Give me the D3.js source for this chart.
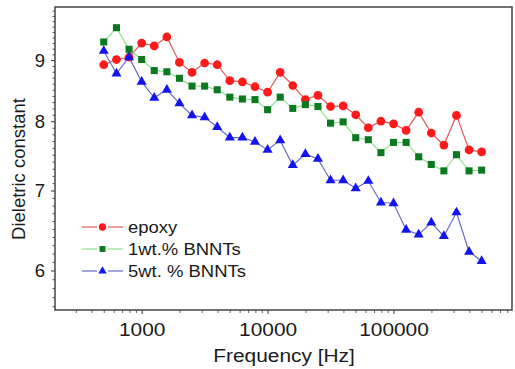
<!DOCTYPE html>
<html>
<head>
<meta charset="utf-8">
<script src="https://cdn.jsdelivr.net/npm/d3@7"></script>
<style>
    body { margin: 0; background: #fff; }
    svg { display: block; }
    text { font-family: "Liberation Sans", Arial, Helvetica, sans-serif; fill: #1a1a1a; }
</style>
</head>
<body>
<svg width="515" height="369"></svg>
<script>
// frequencies [Hz]
var freq = [500, 631, 794, 1000, 1259, 1585, 1995, 2512, 3162, 3981, 5012, 6310, 7943,
    10000, 12589, 15849, 19953, 25119, 31623, 39811, 50119, 63096, 79433,
    100000, 125893, 158489, 199526, 251189, 316228, 398107, 501187];

// dielectric constant per series
var epoxy = [8.92, 9.01, 9.05, 9.30, 9.25, 9.41, 8.96, 8.79, 8.95, 8.92, 8.65, 8.63, 8.55,
    8.46, 8.79, 8.57, 8.34, 8.41, 8.23, 8.24, 8.10, 7.90, 8.00, 7.96, 7.86, 8.14,
    7.82, 7.64, 8.09, 7.57, 7.54];
var bnnt1 = [9.32, 9.58, 9.19, 9.01, 8.82, 8.80, 8.69, 8.56, 8.56, 8.50, 8.38, 8.35, 8.34,
    8.18, 8.38, 8.20, 8.26, 8.23, 7.97, 7.99, 7.75, 7.72, 7.53, 7.68, 7.68, 7.47,
    7.36, 7.27, 7.50, 7.27, 7.28];
var bnnt5 = [9.16, 8.77, 9.05, 8.63, 8.37, 8.50, 8.28, 8.09, 8.06, 7.91, 7.75, 7.75, 7.69,
    7.57, 7.71, 7.35, 7.51, 7.44, 7.14, 7.14, 7.03, 7.13, 6.84, 6.83, 6.49, 6.43,
    6.58, 6.41, 6.71, 6.22, 6.11];

var seriesNames = ["epoxy", "1wt.% BNNTs", "5wt. % BNNTs"];
var xTicks = [1000, 10000, 100000];
var yTicks = [6, 7, 8, 9];

window.onload = main;

function main() {
    var svg = d3.select("svg");
    var left = 55, right = 512, top = 7, bottom = 310;

    var x = d3.scaleLog().domain([205, 873000]).range([left, right]);
    var y = d3.scaleLog().domain([5.56, 9.97]).range([bottom, top]);

    var series = [
        { name: seriesNames[0], values: epoxy, line: "#e05a5a", fill: "#ff1a1a", symbol: d3.symbolCircle, size: 60 },
        { name: seriesNames[1], values: bnnt1, line: "#8de38d", fill: "#0b7a1e", symbol: d3.symbolSquare, size: 50 },
        { name: seriesNames[2], values: bnnt5, line: "#6a6ac8", fill: "#1414ee", symbol: d3.symbolTriangle, size: 44 }
    ];

    // minor ticks
    var xMinor = [];
    [100, 1000, 10000, 100000].forEach(function (d) {
        for (var k = 2; k <= 9; k++) if (d * k >= 205 && d * k <= 873000) xMinor.push(d * k);
    });
    var yMinor = d3.range(56, 100).map(function (d) { return d / 10; })
        .filter(function (d) { return yTicks.indexOf(d) < 0; });

    svg.append("g")
        .attr("transform", "translate(0," + bottom + ")")
        .call(d3.axisBottom(x).tickValues(xMinor).tickSize(3).tickFormat(""))
        .call(function (g) { g.select(".domain").remove(); g.selectAll("line").attr("stroke", "#666"); });
    svg.append("g")
        .attr("transform", "translate(" + left + ",0)")
        .call(d3.axisLeft(y).tickValues(yMinor).tickSize(2.5).tickFormat(""))
        .call(function (g) { g.select(".domain").remove(); g.selectAll("line").attr("stroke", "#555"); });

    // major ticks
    svg.append("g")
        .attr("transform", "translate(0," + bottom + ")")
        .call(d3.axisBottom(x).tickValues(xTicks).tickSize(4).tickPadding(9).tickFormat(d3.format("d")))
        .call(function (g) {
            g.select(".domain").remove();
            g.selectAll("line").attr("stroke", "#333");
            g.selectAll("text").attr("font-size", 18.5).attr("fill", "#1a1a1a")
                .attr("transform", "scale(1.13,1)");
        });
    svg.append("g")
        .attr("transform", "translate(" + left + ",0)")
        .call(d3.axisLeft(y).tickValues(yTicks).tickSize(4).tickPadding(6).tickFormat(d3.format("d")))
        .call(function (g) {
            g.select(".domain").remove();
            g.selectAll("line").attr("stroke", "#333");
            g.selectAll("text").attr("font-size", 18.5).attr("fill", "#1a1a1a");
        });

    // frame
    svg.append("rect")
        .attr("x", left).attr("y", top)
        .attr("width", right - left).attr("height", bottom - top)
        .attr("fill", "none").attr("stroke", "#444").attr("stroke-width", 1.5);

    // axis titles
    svg.append("text")
        .attr("transform", "translate(284,362) scale(1.13,1)")
        .attr("text-anchor", "middle")
        .attr("font-size", 18.5)
        .text("Frequency [Hz]");
    svg.append("text")
        .attr("transform", "translate(25,169) rotate(-90)")
        .attr("text-anchor", "middle")
        .attr("font-size", 18.5)
        .text("Dieletric constant");

    // lines + markers
    var line = d3.line()
        .x(function (d, i) { return x(freq[i]); })
        .y(function (d) { return y(d); });

    series.forEach(function (s) {
        svg.append("path")
            .datum(s.values)
            .attr("d", line)
            .attr("fill", "none")
            .attr("stroke", s.line)
            .attr("stroke-width", 1.2);
    });
    series.forEach(function (s) {
        svg.append("g").selectAll("path")
            .data(s.values)
            .enter()
            .append("path")
            .attr("d", d3.symbol().type(s.symbol).size(s.size))
            .attr("transform", function (d, i) { return "translate(" + x(freq[i]) + "," + y(d) + ")"; })
            .attr("fill", s.fill);
    });

    // legend
    var legend = svg.append("g").attr("transform", "translate(82,227)");
    series.forEach(function (s, i) {
        var row = legend.append("g").attr("transform", "translate(0," + (i * 22) + ")");
        row.append("line").attr("x1", 0).attr("x2", 15).attr("stroke", s.line).attr("stroke-width", 1.2);
        row.append("line").attr("x1", 26).attr("x2", 41).attr("stroke", s.line).attr("stroke-width", 1.2);
        row.append("path")
            .attr("d", d3.symbol().type(s.symbol).size(s.size * 0.7))
            .attr("transform", "translate(20.5,0)")
            .attr("fill", s.fill);
        row.append("text")
            .attr("transform", "translate(46,6) scale(1.12,1)")
            .attr("font-size", 16.5)
            .text(s.name);
    });
}
</script>
</body>
</html>
